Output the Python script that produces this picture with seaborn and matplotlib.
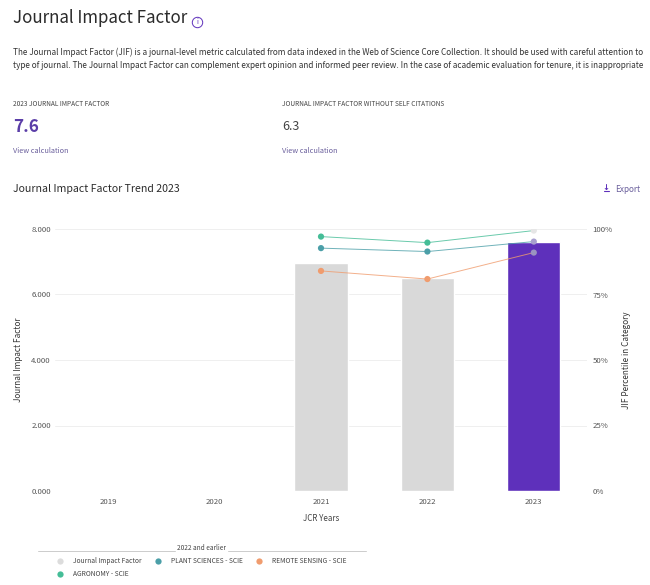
import pandas as pd
import matplotlib.pyplot as plt
import seaborn as sns
from matplotlib.lines import Line2D

sns.set_style("white")
plt.rcParams['font.family'] = ['Noto Sans CJK SC', 'DejaVu Sans']

years = ["2019", "2020", "2021", "2022", "2023"]
jif = [None, None, 6.95, 6.5, 7.6]
line_years = ["2021", "2022", "2023"]
agronomy = [97.1, 94.8, 99.4]
plant = [92.7, 91.4, 95.2]
remote = [84.0, 80.9, 91.0]

W, H = 650, 585
PURPLE = "#5e30bb"
GREY_BAR = "#d9d9d9"
colors = {"AGRONOMY - SCIE": "#45bd97", "PLANT SCIENCES - SCIE": "#4b9fa8", "REMOTE SENSING - SCIE": "#f09c6e"}
colors_2023 = {"AGRONOMY - SCIE": "#e6e6e6", "PLANT SCIENCES - SCIE": "#a79fcf", "REMOTE SENSING - SCIE": "#9a94c0"}

fig = plt.figure(figsize=(W / 100, H / 100), dpi=100)
ax = fig.add_axes([55 / W, 1 - 491 / H, 532 / W, 262 / H])

bars = pd.DataFrame({"year": years, "jif": jif})
sns.barplot(data=bars, x="year", y="jif", order=years, ax=ax, color=GREY_BAR, width=0.5, saturation=1, zorder=2)
ax.patches[-1].set_facecolor(PURPLE)
ax.set_xlim(-0.5, 4.5)
ax.set_ylim(0, 8)
ax.set_yticks([0, 2, 4, 6, 8])
ax.set_yticklabels(["0.000", "2.000", "4.000", "6.000", "8.000"])
ax.set_xlabel("JCR Years", fontsize=5.8, color="#444444", labelpad=6)
ax.set_ylabel("Journal Impact Factor", fontsize=5.9, color="#333333", labelpad=6)
ax.tick_params(axis="x", length=0, labelsize=5.6, labelcolor="#555555", pad=5)
ax.tick_params(axis="y", length=0, labelsize=5.6, labelcolor="#555555", pad=3)
ax.grid(axis="y", color="#efefef", lw=0.7, zorder=0)
ax.set_axisbelow(True)
sns.despine(ax=ax, left=True, bottom=True, right=True, top=True)

ax2 = ax.twinx()
lines = pd.DataFrame({
    "year": line_years * 3,
    "pct": agronomy + plant + remote,
    "cat": ["AGRONOMY - SCIE"] * 3 + ["PLANT SCIENCES - SCIE"] * 3 + ["REMOTE SENSING - SCIE"] * 3,
})
lines["x"] = lines["year"].map(years.index)
sns.lineplot(data=lines, x="x", y="pct", hue="cat", palette=colors, lw=0.7, alpha=0.8, legend=False, ax=ax2, zorder=3)
old = lines[lines["year"] != "2023"]
new = lines[lines["year"] == "2023"]
sns.scatterplot(data=old, x="x", y="pct", hue="cat", palette=colors, s=20, linewidth=0, legend=False, ax=ax2, zorder=4)
sns.scatterplot(data=new, x="x", y="pct", hue="cat", palette=colors_2023, s=20, linewidth=0, legend=False, ax=ax2, zorder=4)
ax2.set_ylim(0, 100)
ax2.set_xlim(ax.get_xlim())
ax2.set_yticks([0, 25, 50, 75, 100])
ax2.set_yticklabels(["0%", "25%", "50%", "75%", "100%"])
ax2.set_xlabel("")
ax2.set_ylabel("JIF Percentile in Category", fontsize=5.9, color="#333333", labelpad=7)
ax2.tick_params(axis="y", length=0, labelsize=5.6, labelcolor="#555555", pad=4)
ax2.grid(False)
sns.despine(ax=ax2, left=True, bottom=True, right=True, top=True)


def put(x, y, s, **kw):
    # pixel coords from top left of the picture
    kw.setdefault("va", "center")
    fig.text(x / W, 1 - y / H, s, **kw)


put(13, 18, "Journal Impact Factor", fontsize=12.2, color="#2b2b2b")
put(197, 21.5, "i", fontsize=5, color=PURPLE, ha="center")
fig.add_artist(Line2D([197 / W], [1 - 21.5 / H], marker="o", ms=7.5, mfc="none", mec=PURPLE, mew=0.7, ls=""))
put(13, 52, "The Journal Impact Factor (JIF) is a journal-level metric calculated from data indexed in the Web of Science Core Collection. It should be used with careful attention to",
    fontsize=5.9, color="#333333")
put(13, 66, "type of journal. The Journal Impact Factor can complement expert opinion and informed peer review. In the case of academic evaluation for tenure, it is inappropriate",
    fontsize=5.9, color="#333333")
put(13, 104.5, "2023 JOURNAL IMPACT FACTOR", fontsize=4.7, color="#444444")
put(282, 104.5, "JOURNAL IMPACT FACTOR WITHOUT SELF CITATIONS", fontsize=4.7, color="#444444")
put(13, 127, "7.6", fontsize=12.3, color="#5b3ea8", fontweight="bold")
put(282, 127, "6.3", fontsize=9, color="#444444")
put(13, 151, "View calculation", fontsize=5.3, color="#6a5f9c")
put(282, 151, "View calculation", fontsize=5.3, color="#6a5f9c")
put(13, 189, "Journal Impact Factor Trend 2023", fontsize=7.6, color="#2b2b2b", fontweight="medium")
put(615, 189, "Export", fontsize=5.9, color="#6a5f9c")
put(606, 187.5, "↓", fontsize=6, color=PURPLE, ha="center", family=["DejaVu Sans"], fontweight="bold")
fig.add_artist(Line2D([603.5 / W, 608.5 / W], [1 - 191.5 / H] * 2, color=PURPLE, lw=0.8))

# legend header with the rule either side of it
put(201, 547.5, "2022 and earlier", fontsize=4.7, color="#444444", ha="center")
for x0, x1 in [(38, 175), (228, 366)]:
    fig.add_artist(Line2D([x0 / W, x1 / W], [1 - 551 / H] * 2, color="#cccccc", lw=0.7))

labels = ["Journal Impact Factor", "AGRONOMY - SCIE", "PLANT SCIENCES - SCIE", "REMOTE SENSING - SCIE"]
cols = ["#dcdcdc", colors["AGRONOMY - SCIE"], colors["PLANT SCIENCES - SCIE"], colors["REMOTE SENSING - SCIE"]]
handles = [Line2D([], [], marker="o", ls="", ms=4.5, mfc=c, mec="none") for c in cols]
fig.legend(handles, labels, ncol=3, loc="upper left", bbox_to_anchor=(56.7 / W, 1 - 557.2 / H), frameon=False,
           fontsize=4.8, labelcolor="#444444", handletextpad=1.45, handlelength=1.0, columnspacing=1.95, labelspacing=0.75,
           borderpad=0, borderaxespad=0)

fig.savefig("out.png", dpi=100)
